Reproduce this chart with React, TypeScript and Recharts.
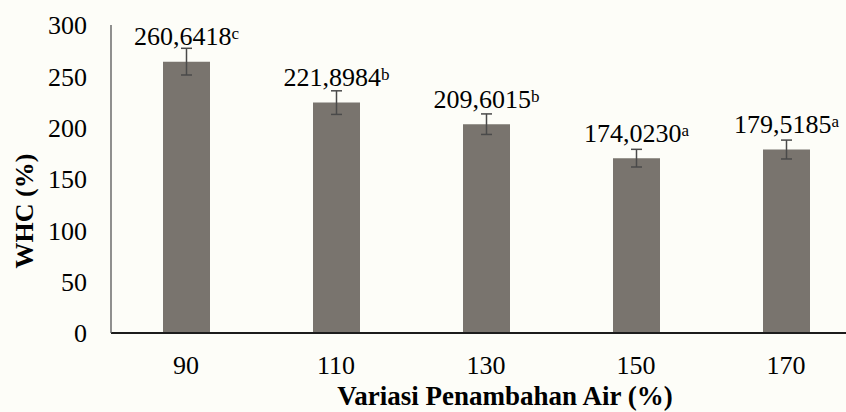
import React from 'react';
import { BarChart, Bar, XAxis, YAxis, ErrorBar, LabelList } from 'recharts';

const categories = ['90', '110', '130', '150', '170'];
const whcValues = [264.3, 224.4, 203.4, 170.3, 178.7];
const errValues = [13, 11.5, 10, 8.6, 9.2];
const labelTexts = ['260,6418', '221,8984', '209,6015', '174,0230', '179,5185'];
const labelSups = ['c', 'b', 'b', 'a', 'a'];
const yTicks = [0, 50, 100, 150, 200, 250, 300];

const data = categories.map((c, i) => ({ cat: c, whc: whcValues[i], err: errValues[i] }));

const FONT = 'Liberation Serif, Times New Roman, DejaVu Serif, serif';

const ValueLabel = (props: any) => {
  const { x, y, width, index } = props;
  const cx = Number(x) + Number(width) / 2;
  return (
    <text x={cx} y={Number(y) - 16.3} textAnchor="middle" style={{ fontFamily: FONT }} fontSize={26} fill="#000">
      {labelTexts[index]}
      <tspan fontSize={17} dy={-6}>{labelSups[index]}</tspan>
    </text>
  );
};

const YTitle = (props: any) => {
  const vb = props.viewBox || { x: 0, y: 25 };
  const tx = vb.x + 32.5;
  const ty = vb.y + 186;
  return (
    <text x={tx} y={ty} transform={`rotate(-90, ${tx}, ${ty})`} textAnchor="middle" style={{ fontFamily: FONT, fontWeight: 'bold' }} fontSize={26} fill="#000">
      WHC (%)
    </text>
  );
};

const XTitle = (props: any) => {
  const vb = props.viewBox || { x: 111, y: 333 };
  const tx = vb.x + 394;
  const ty = vb.y + 71.5;
  return (
    <text x={tx} y={ty} textAnchor="middle" style={{ fontFamily: FONT, fontWeight: 'bold' }} fontSize={27} fill="#000">
      Variasi Penambahan Air (%)
    </text>
  );
};

export default function App() {
  return (
    <div style={{ position: 'absolute', left: 0, top: 0, width: 846, height: 412, overflow: 'hidden', background: '#fdfdf8', fontFamily: FONT }}>
      <BarChart width={870} height={412} data={data} margin={{ top: 25, right: 9, left: 0, bottom: 0 }} style={{ fontFamily: FONT }}>
        <XAxis
          dataKey="cat"
          type="category"
          height={79}
          tickLine={false}
          tickSize={0}
          tickMargin={22.5}
          axisLine={{ stroke: '#1c1c1c', strokeWidth: 2 }}
          tick={{ fill: '#000', fontSize: 26, style: { fontFamily: FONT } }}
          label={<XTitle />}
        />
        <YAxis
          type="number"
          domain={[0, 300]}
          ticks={yTicks}
          width={111}
          tickLine={false}
          tickSize={0}
          tickMargin={24}
          axisLine={{ stroke: '#555', strokeWidth: 1.3 }}
          tick={{ fill: '#000', fontSize: 26, style: { fontFamily: FONT } }}
          label={<YTitle />}
        />
        <Bar dataKey="whc" fill="#79746e" barSize={47} isAnimationActive={false}>
          <ErrorBar dataKey="err" direction="y" width={5.5} stroke="#4a4a4a" strokeWidth={1.5} isAnimationActive={false} />
          <LabelList dataKey="whc" content={<ValueLabel />} />
        </Bar>
      </BarChart>
    </div>
  );
}
